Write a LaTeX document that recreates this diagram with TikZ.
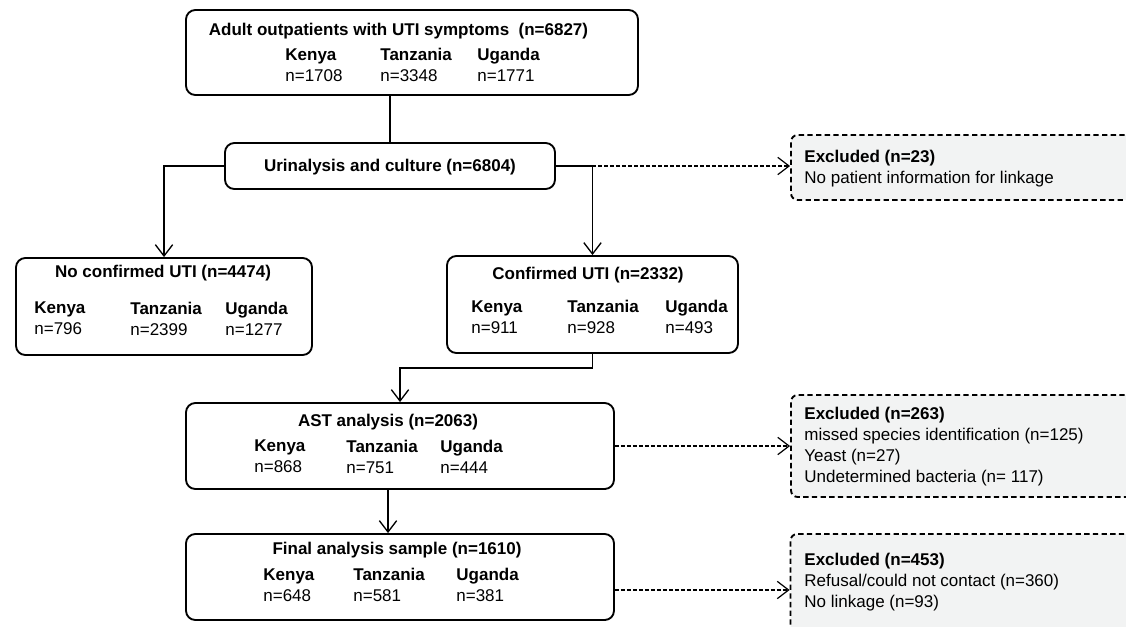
\documentclass[tikz,border=0pt]{standalone}
\usepackage{fontspec}
\setmainfont{Liberation Sans}
\usetikzlibrary{positioning, arrows.meta, calc}
\definecolor{exclgray}{HTML}{F2F3F3}
\newcommand{\ctry}[2]{\textbf{#1}\\#2}

\begin{document}
\begin{tikzpicture}[
    x=0.75pt, y=-0.75pt,
    > = {Straight Barb[length=8.5pt, width=13pt]}, semithick,
    font=\fontsize{12.75}{15.75}\selectfont,
    box/.style={rectangle, rounded corners=7pt, draw, line width=1.4pt},
    excl/.style={rectangle, rounded corners=5pt, draw, fill=exclgray, line width=1.4pt,
        dash pattern=on 4pt off 2.5pt, minimum width=261.75pt},
    line/.style={line width=1pt},
    dashline/.style={line width=0.9pt, dash pattern=on 3pt off 1.5pt},
    ttl/.style={font=\fontsize{12.75}{15.75}\selectfont\bfseries, inner sep=0pt},
    cnt/.style={anchor=west, align=left, inner sep=0pt}
]
\useasboundingbox (0,0) rectangle (1126,626);

% 1. ALL PATIENTS
\node[box, minimum width=339pt, minimum height=63.75pt] (top) at (412,52.5) {};
\node[ttl] (topttl) at (398.5,31) {Adult outpatients with UTI symptoms\ \ (n=6827)};
\node[cnt] (topke) at (285,65) {\ctry{Kenya}{n=1708}};
\node[cnt] (topta) at (380,65) {\ctry{Tanzania}{n=3348}};
\node[cnt] (topug) at (477,65) {\ctry{Uganda}{n=1771}};

% 2. URINALYSIS
\node[box, minimum width=247.5pt, minimum height=34.5pt] (uri) at (390,166) {};
\node[ttl] (urittl) at (390,167) {Urinalysis and culture (n=6804)};

% 3. NO CONFIRMED UTI
\node[box, minimum width=222pt, minimum height=72.75pt] (noconf) at (164,306.5) {};
\node[ttl] (noconfttl) at (163,273) {No confirmed UTI (n=4474)};
\node[cnt] (noconfke) at (34,318.5) {\ctry{Kenya}{n=796}};
\node[cnt] (noconfta) at (130,318.5) {\ctry{Tanzania}{n=2399}};
\node[cnt] (noconfug) at (225,318.5) {\ctry{Uganda}{n=1277}};

% 4. CONFIRMED UTI
\node[box, minimum width=218.25pt, minimum height=72.75pt] (conf) at (592.5,304.5) {};
\node[ttl] (confttl) at (588,275) {Confirmed UTI (n=2332)};
\node[cnt] (confke) at (471,317) {\ctry{Kenya}{n=911}};
\node[cnt] (confta) at (567,317) {\ctry{Tanzania}{n=928}};
\node[cnt] (confug) at (665,317) {\ctry{Uganda}{n=493}};

% 5. AST ANALYSIS
\node[box, minimum width=321pt, minimum height=64.5pt] (ast) at (400,446) {};
\node[ttl] (astttl) at (388,422) {AST analysis (n=2063)};
\node[cnt] (astke) at (254,456.5) {\ctry{Kenya}{n=868}};
\node[cnt] (astta) at (346,456.5) {\ctry{Tanzania}{n=751}};
\node[cnt] (astug) at (440,456.5) {\ctry{Uganda}{n=444}};

% 6. FINAL SAMPLE
\node[box, minimum width=321pt, minimum height=64.5pt] (final) at (400,577) {};
\node[ttl] (finalttl) at (397,550) {Final analysis sample (n=1610)};
\node[cnt] (finalke) at (263,585) {\ctry{Kenya}{n=648}};
\node[cnt] (finalta) at (353,585) {\ctry{Tanzania}{n=581}};
\node[cnt] (finalug) at (456,585) {\ctry{Uganda}{n=381}};

% EXCLUSIONS
\node[excl, minimum height=48.75pt] (exa) at (965.5,167.5) {};
\node[cnt] (exatxt) at (804,169) {\textbf{Excluded (n=23)}\\No patient information for linkage};
\node[excl, minimum height=76.5pt] (exb) at (965.5,446) {};
\node[cnt] (exbtxt) at (804,447) {\textbf{Excluded (n=263)}\\missed species identification (n=125)\\Yeast (n=27)\\Undetermined bacteria (n= 117)};
\node[excl, minimum height=79.5pt] (exc) at (965,587) {};
\node[cnt] (exctxt) at (804,582) {\textbf{Excluded (n=453)}\\Refusal/could not contact (n=360)\\No linkage (n=93)};

% connectors
\draw[line width=1.8pt] (uri.north |- top.south) -- (uri.north);
\draw[line, ->] (uri.west) -| (noconf.north);
\draw[line, ->] (uri.east) -| (conf.north);
\draw[dashline, ->] (uri.east) -- (uri.east -| exa.west);
\draw[line, ->] (conf.south) -- ++(0,14) -| (ast.north);
\draw[line, ->] ([xshift=-9pt]ast.south) -- ([xshift=-9pt]final.north);
\draw[dashline, ->] (ast.east) -- (exb.west);
\draw[dashline, ->] (final.east |- 0,590) -- (exc.west |- 0,590);
\end{tikzpicture}
\end{document}
